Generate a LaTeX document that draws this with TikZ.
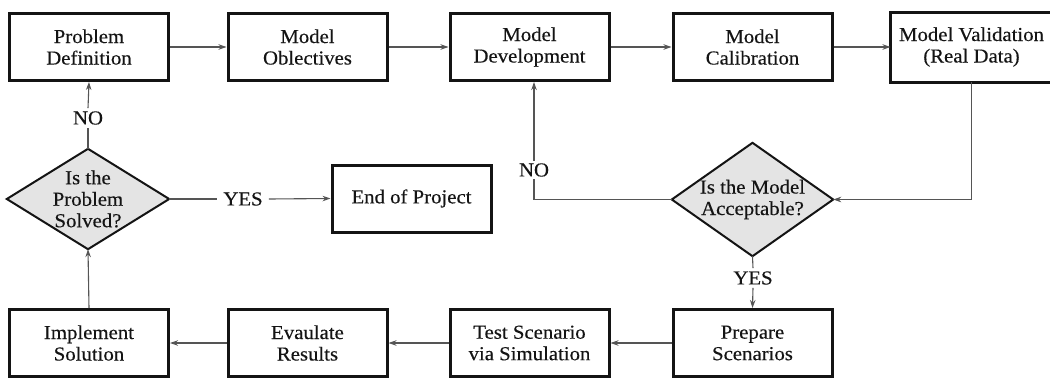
\documentclass[tikz,border=0pt]{standalone}
\usepackage{fontspec}
\setmainfont{Liberation Serif}[FakeStretch=1.05,FakeBold=0.3]
\usetikzlibrary{arrows.meta}
\definecolor{linegray}{HTML}{555555}
\definecolor{dfill}{HTML}{E4E4E4}
\definecolor{ink}{HTML}{141414}
\begin{document}
\begin{tikzpicture}[x=1pt,y=-1pt,
  font=\fontsize{19.8}{21.5}\selectfont,
  box/.style={draw=ink, line width=3pt, minimum width=159pt, minimum height=67pt, align=center, inner sep=0pt, text=ink},
  dbox/.style={minimum width=#1, inner sep=0pt, align=center, text=ink},
  lbl/.style={inner sep=3pt, text=ink},
  conn/.style={draw=linegray, line width=1.1pt},
  arr/.style={conn, -{Stealth[length=8pt,width=5.5pt]}}
]
\useasboundingbox (0,0) rectangle (1050,378);
% top row
\node[box] (pd) at (89,47) {Problem\\Definition};
\node[box] (mo) at (307.5,47) {Model\\Oblectives};
\node[box] (md) at (529.5,47) {Model\\Development};
\node[box] (mc) at (752.5,47) {Model\\Calibration};
\node[box, draw=none] (mv) at (971.5,47) {Model Validation\\(Real Data)};
\draw[ink, line width=3pt] (mv.north east) ++(40,0) -- (mv.north west) |- (mv.south east) -- ++(40,0);
% bottom row
\node[box] (is) at (89,343) {Implement\\Solution};
\node[box] (er) at (307.5,343) {Evaulate\\Results};
\node[box] (ts) at (529.5,343) {Test Scenario\\via Simulation};
\node[box] (ps) at (752.5,343) {Prepare\\Scenarios};
% end
\node[box] (ep) at (411.5,198.5) {End of Project};
% diamonds
\node[dbox=162pt, minimum height=100pt] (d1) at (88,199) {};
\node[dbox=161pt, minimum height=113pt] (d2) at (752.5,199.5) {};
\fill[dfill] (d1.north) -- (d1.east) -- (d1.south) -- (d1.west) -- cycle;
\fill[dfill] (d2.north) -- (d2.east) -- (d2.south) -- (d2.west) -- cycle;
\node[dbox=162pt] at (d1) {Is the\\Problem\\Solved?};
\node[dbox=161pt] at (d2) {Is the Model\\Acceptable?};
\draw[ink, line width=2pt, line join=miter] (d1.north) -- (d1.east) -- (d1.south) -- (d1.west) -- cycle;
\draw[ink, line width=2pt, line join=miter] (d2.north) -- (d2.east) -- (d2.south) -- (d2.west) -- cycle;
% labels
\node[lbl] (no1) at (88,118) {NO};
\node[lbl, inner xsep=6pt] (yes1) at (243,199) {YES};
\node[lbl, inner sep=2pt] (no2) at (534,170) {NO};
\node[lbl] (yes2) at (753,278) {YES};
% connectors
\draw[arr] (pd.east) -- (mo.west);
\draw[arr] (mo.east) -- (md.west);
\draw[arr] (md.east) -- (mc.west);
\draw[arr] (mc.east) -- (mv.west);
\draw[arr] (mv.south) |- (d2.east);
\draw[conn] (d2.west) -| (no2.south);
\draw[arr] (no2.north) -- (no2.north |- md.south);
\draw[conn] (d2.south) -- (yes2.north);
\draw[arr] (yes2.south) -- (ps.north);
\draw[arr] (ps.west) -- (ts.east);
\draw[arr] (ts.west) -- (er.east);
\draw[arr] (er.west) -- (is.east);
\draw[arr] (is.north) -- (d1.south);
\draw[conn] (d1.north) -- (no1.south);
\draw[arr] (no1.north) -- (pd.south);
\draw[conn] (d1.east) -- (yes1.west);
\draw[arr] (yes1.east) -- (ep.west);
\end{tikzpicture}
\end{document}
